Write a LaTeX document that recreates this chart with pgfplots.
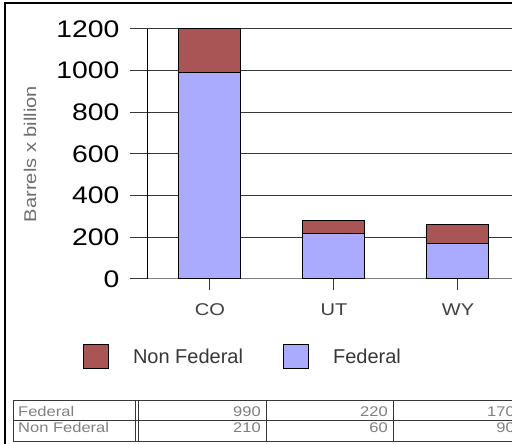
\documentclass[border=0pt]{standalone}
\usepackage{pgfplots}
\pgfplotsset{compat=1.18}
\usepackage{fontspec}
\setmainfont{Liberation Sans}
\newfontfamily\widefont{Liberation Sans}[FakeStretch=1.18]
\definecolor{fed}{RGB}{170,170,255}
\definecolor{nonfed}{RGB}{170,85,85}
\definecolor{gridc}{RGB}{55,55,55}
\definecolor{lblc}{RGB}{64,64,64}
\definecolor{ylblc}{RGB}{110,110,110}
\definecolor{tblc}{RGB}{128,128,128}
\begin{document}
\begin{tikzpicture}[x=1pt,y=1pt]
\useasboundingbox (0,0) rectangle (512,444);
\clip (0,0) rectangle (512,444);
\fill[white] (0,0) rectangle (512,444);
\draw[line width=1.2pt] (5,-10) -- (5,441) -- (600,441);
\begin{axis}[
  at={(148pt,165pt)}, anchor=south west,
  scale only axis, width=372pt, height=250pt,
  clip=false,
  ybar stacked, bar width=62pt,
  xmin=-0.5, xmax=2.5, ymin=0, ymax=1200,
  xtick={0,1,2}, xticklabels={CO,UT,WY},
  ytick={0,200,...,1200},
  /pgf/number format/.cd, 1000 sep={}, assume math mode=true, /pgfplots/.cd,
  axis x line*=bottom, axis y line*=left,
  x axis line style={-, color=gray, line width=1pt},
  y axis line style={-, color=black, line width=1pt},
  ymajorgrids, grid style={gridc, line width=1pt},
  tick align=outside, major tick length=18pt,
  ytick style={gridc, line width=1pt},
  xtick style={draw=none},
  yticklabel style={font=\widefont\fontsize{24}{24}\selectfont, text=black, xshift=-7pt},
  xticklabel style={font=\widefont\fontsize{17}{17}\selectfont, text=lblc, yshift=-3pt},
  ylabel={Barrels x billion},
  ylabel style={at={(axis description cs:-0.317,0.5)}, anchor=center,
    font=\widefont\fontsize{17}{17}\selectfont, text=ylblc},
  reverse legend,
  legend columns=-1,
  legend image code/.code={\draw[#1, line width=1pt] (0pt,-12pt) rectangle (25pt,12pt);},
  legend style={draw=none, fill=none, inner sep=0pt, outer sep=0pt,
    at={(axis description cs:-0.1747,-0.312)}, anchor=west,
    font=\fontsize{20}{20}\selectfont, text=gridc,
    nodes={inner sep=0pt},
    /tikz/every odd column/.style={column sep=24pt},
    /tikz/every even column/.style={column sep=40pt}},
]
\addplot[fill=fed, draw=black, line width=1pt] coordinates {(0,990) (1,220) (2,170)};
\addplot[fill=nonfed, draw=black, line width=1pt] coordinates {(0,210) (1,60) (2,90)};
\legend{Federal, Non Federal}
% short category tick marks below the x axis
\pgfplotsinvokeforeach{0,1,2}{\draw[gridc, line width=1pt] (axis cs:#1,0) -- ++(0pt,-11pt);}
\end{axis}
% data table below the chart
\begin{scope}[line width=1pt, draw=gridc]
\foreach \yy in {43,23,2} \draw (13,\yy) -- (520,\yy);
\foreach \xx in {13,135,138,266,393,520} \draw (\xx,2) -- (\xx,43);
\end{scope}
\begin{scope}[every node/.style={inner sep=0pt, text=tblc, font=\widefont\fontsize{14}{14}\selectfont}]
\node[anchor=base west] at (18,27) {Federal};
\node[anchor=base west] at (18,11) {Non Federal};
\node[anchor=base east] at (261,27) {990};
\node[anchor=base east] at (261,11) {210};
\node[anchor=base east] at (388,27) {220};
\node[anchor=base east] at (388,11) {60};
\node[anchor=base east] at (515,27) {170};
\node[anchor=base east] at (515,11) {90};
\end{scope}
\end{tikzpicture}
\end{document}
